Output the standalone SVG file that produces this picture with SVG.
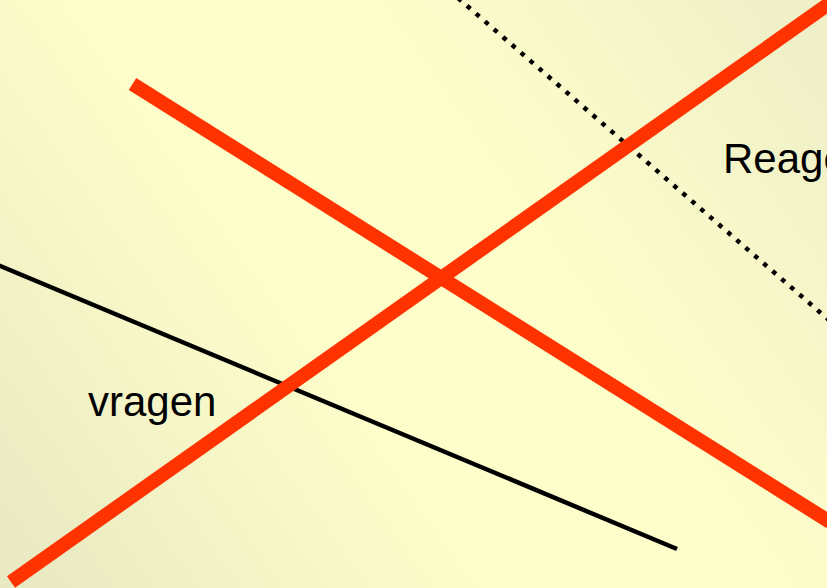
<svg xmlns="http://www.w3.org/2000/svg" width="827" height="588" viewBox="0 0 827 588">
<defs>
<linearGradient id="bg" x1="827" y1="0" x2="0" y2="588" gradientUnits="userSpaceOnUse">
<stop offset="0" stop-color="#EEEEC8"/>
<stop offset="0.38" stop-color="#FEFECB"/>
<stop offset="0.6" stop-color="#FEFECB"/>
<stop offset="1" stop-color="#E8E8C2"/>
</linearGradient>
<style>
.red{stroke:#FF3300;stroke-width:14;fill:none;stroke-linecap:butt}
.blk{stroke:#000;stroke-width:4.5;fill:none}
.dot{stroke:#000;stroke-width:4.5;fill:none;stroke-dasharray:4.5 7.4}
.lbl{font-family:"Liberation Sans",Arial,sans-serif;font-size:42px;fill:#000}
</style>
</defs>
<rect width="827" height="588" fill="url(#bg)"/>
<g id="connectors">
<line class="dot" x1="458" y1="-2" x2="830" y2="321"/>
<line class="blk" x1="-2" y1="265" x2="677" y2="549"/>
<line class="red" x1="132.5" y1="84" x2="830" y2="522"/>
<line class="red" x1="11" y1="582" x2="840" y2="-4"/>
</g>
<g id="label-reage"><text class="lbl" x="723" y="173">Reage</text></g>
<g id="label-vragen"><text class="lbl" x="88" y="416">vragen</text></g>
</svg>
